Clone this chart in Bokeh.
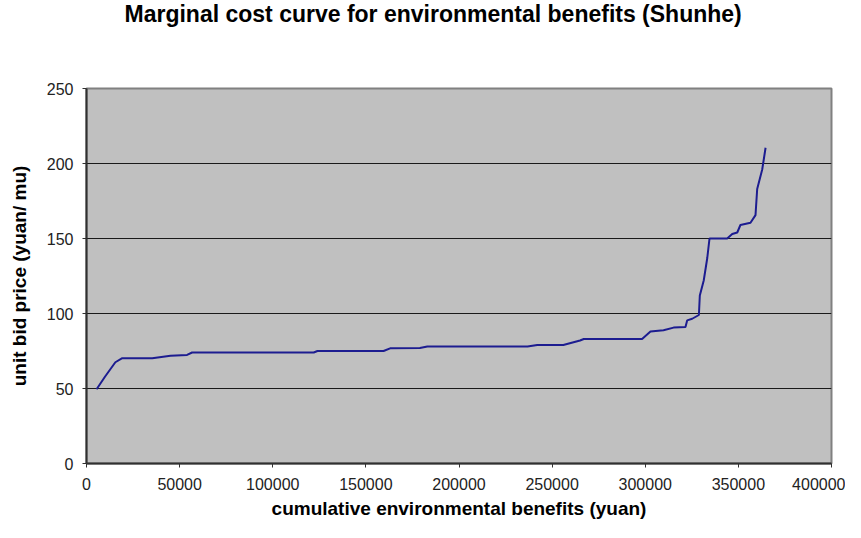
from bokeh.plotting import figure
from bokeh.models import Range1d, Title
from bokeh.embed import file_html
from bokeh.resources import INLINE

# cumulative environmental benefits (yuan)
benefits = [5400, 10000, 15500, 19200, 35300, 45100, 54000, 56700, 122000, 124000,
            159500, 163000, 179000, 183000, 236800, 242000, 256000, 265000, 267000,
            298300, 302800, 309800, 315200, 321600, 322500, 325200, 328800, 329300,
            331400, 333300, 334500, 344000, 346700, 349400, 351100, 356500, 359200,
            360100, 362800, 364600]
# unit bid price (yuan/ mu)
price = [49.5, 58, 67.5, 70.2, 70.2, 71.8, 72.4, 74, 74, 75,
         75, 76.8, 77, 78, 78, 79, 79, 82, 83,
         83, 88, 88.8, 90.6, 91, 95.4, 96.5, 99, 112,
         122, 137, 150, 150, 153, 154, 159, 160.5, 165.6,
         183, 196, 210.5]

x_ticks = list(range(0, 400001, 50000))
y_ticks = list(range(0, 251, 50))
title_text = "Marginal cost curve for environmental benefits (Shunhe)"

p = figure(width=845, height=522, output_backend="svg", toolbar_location=None,
           x_range=Range1d(0, 400000), y_range=Range1d(0, 250),
           min_border_left=86, min_border_right=14, min_border_top=85, min_border_bottom=59)

p.background_fill_color = "#C0C0C0"
p.border_fill_color = "white"
p.outline_line_color = "#808080"
p.outline_line_width = 2

# trailing blank lines lift the title toward the top of the canvas
title = Title(text=title_text + "\n \n ", align="left", vertical_align="top",
              text_font="Liberation Sans", text_font_size="23px", text_line_height=1.15,
              text_font_style="bold", text_color="#000000", offset=38, standoff=0)
p.add_layout(title, "above")

p.line(benefits, price, line_color="#1C1C90", line_width=2)

p.xaxis.ticker = x_ticks
p.yaxis.ticker = y_ticks
for ax in (p.xaxis, p.yaxis):
    ax.axis_line_color = "#303030"
    ax.axis_line_width = 2
    ax.major_tick_line_color = "#303030"
    ax.major_tick_in = 0
    ax.major_tick_out = 4
    ax.minor_tick_line_color = None
    ax.major_label_text_font = "Liberation Sans"
    ax.major_label_text_font_size = "16px"
    ax.major_label_text_color = "#222222"
    ax.axis_label_text_font = "Liberation Sans"
    ax.axis_label_text_font_size = "19px"
    ax.axis_label_text_font_style = "bold"
    ax.axis_label_text_color = "#000000"

p.xaxis.axis_label = "cumulative environmental benefits (yuan)"
p.yaxis.axis_label = "unit bid price (yuan/ mu)"
p.xaxis.major_label_standoff = 10
p.yaxis.major_label_standoff = 9
p.xaxis.axis_label_standoff = 5
p.yaxis.axis_label_standoff = 14
p.xaxis.formatter.use_scientific = False

p.xgrid.grid_line_color = None
p.ygrid.grid_line_color = "#1a1a1a"
p.ygrid.grid_line_width = 1

open("out.html", "w").write(file_html(p, INLINE))
